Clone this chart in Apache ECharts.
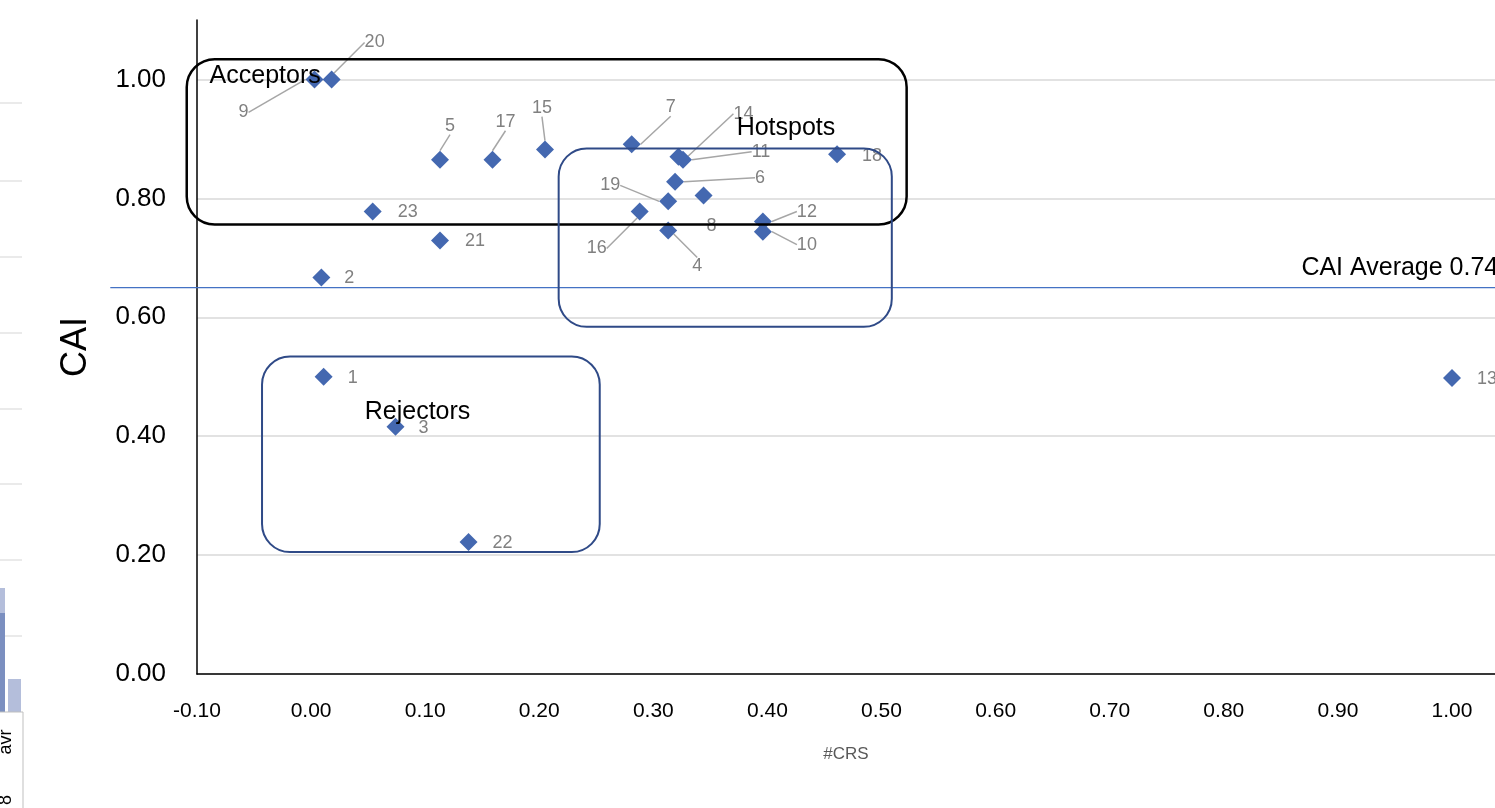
<!DOCTYPE html>
<html>
<head>
<meta charset="utf-8">
<script src="https://cdn.jsdelivr.net/npm/echarts@6/dist/echarts.min.js"></script>
<style>html,body{margin:0;padding:0;background:#fff;}#c{width:1495px;height:808px;}</style>
</head>
<body>
<div id="c"></div>
<script>
// ---- data ----
const ids = [1,2,3,4,5,6,7,8,9,10,11,12,13,14,15,16,17,18,19,20,21,22,23];
const crs = [0.011,0.009,0.074,0.313,0.113,0.319,0.281,0.344,0.003,0.396,0.326,0.396,1.000,0.322,0.205,0.288,0.159,0.461,0.313,0.018,0.113,0.138,0.054];
const cai = [0.500,0.667,0.416,0.746,0.865,0.828,0.891,0.805,1.000,0.744,0.865,0.761,0.498,0.870,0.882,0.778,0.865,0.874,0.795,1.000,0.729,0.222,0.778];
const leaderIds = [4,5,6,7,9,10,11,12,14,15,16,17,19,20];
const xTicks = ['-0.10','0.00','0.10','0.20','0.30','0.40','0.50','0.60','0.70','0.80','0.90','1.00'];
const regionNames = ['Acceptors','Hotspots','Rejectors'];
const regionX0 = [-0.109, 0.217, -0.043];
const regionX1 = [0.522, 0.509, 0.253];
const regionYTop = [1.034, 0.884, 0.534];
const regionYBottom = [0.756, 0.584, 0.205];
const regionLabelX = [-0.089, 0.373, 0.047];
const regionLabelY = [1.005, 0.919, 0.441];
const avgLineValue = 0.65;
const avgLabel = 'CAI Average 0.74';

// label offsets (px from point centre to label centre)
const labelOffsets = {
  1:[29,1],2:[28,1],3:[28,1],4:[29,36],5:[10,-34],6:[85,-4],7:[39,-37],8:[8,31],
  9:[-71,33],10:[44,13],11:[78,-8],12:[44,-10],13:[35,1],14:[65,-43],15:[-3,-42],
  16:[-43,37],17:[13,-38],18:[35,2],19:[-58,-16],20:[43,-37],21:[35,0],22:[34,1],23:[35,1]
};

const FONT = "'Liberation Sans', 'DejaVu Sans', sans-serif";
const chart = echarts.init(document.getElementById('c'), null, {renderer:'canvas'});

const points = ids.map((id,i)=>({
  value:[crs[i], cai[i], id],
  labelLine:{show: leaderIds.indexOf(id) >= 0}
}));
const regions = regionNames.map((n,i)=>[regionX0[i], regionYTop[i], regionX1[i], regionYBottom[i], regionLabelX[i], regionLabelY[i], i]);
const regionColors = ['#000000','#2F4A87','#2F4A87'];

const option = {
  animation:false,
  backgroundColor:'#ffffff',
  grid:{left:197, right:0, top:20, bottom:134, containLabel:false},
  xAxis:{
    type:'value', min:-0.1, max:1.0377, interval:0.1,
    axisLine:{show:true, onZero:false, lineStyle:{color:'#000', width:1.5}},
    axisTick:{show:false},
    splitLine:{show:false},
    axisLabel:{fontFamily:FONT, fontSize:21, color:'#000', margin:27, showMaxLabel:false,
      formatter:v=>{const s=v.toFixed(2); return xTicks.indexOf(s)>=0?s:'';}},
    name:'#CRS', nameLocation:'middle', nameGap:72,
    nameTextStyle:{fontFamily:FONT, fontSize:17, color:'#595959'}
  },
  yAxis:{
    type:'value', min:0, max:1.1, interval:0.2,
    axisLine:{show:true, onZero:false, lineStyle:{color:'#000', width:1.5}},
    axisTick:{show:false},
    splitLine:{show:true, showMaxLine:false, lineStyle:{color:'#d9d9d9', width:1.5}},
    axisLabel:{fontFamily:FONT, fontSize:26, color:'#000', margin:31, showMaxLabel:false,
      formatter:v=>v.toFixed(2)},
    name:'CAI', nameLocation:'middle', nameGap:103, nameRotate:90,
    nameTextStyle:{fontFamily:FONT, fontSize:36, color:'#000'}
  },
  series:[
    {
      type:'custom', coordinateSystem:'cartesian2d', clip:false, silent:true, z:1,
      data:[[-0.176, avgLineValue, 1.0377]],
      encode:{x:0, y:1},
      renderItem:(params, api)=>{
        const a = api.coord([api.value(0), api.value(1)]);
        const b = api.coord([api.value(2), api.value(1)]);
        return {type:'line', shape:{x1:a[0], y1:a[1], x2:b[0], y2:b[1]},
          style:{stroke:'#4472C4', lineWidth:1.2}};
      }
    },
    {
      type:'scatter', z:3,
      symbol:'diamond', symbolSize:18,
      itemStyle:{color:'#4468b0', opacity:1},
      data:points,
      label:{show:true, formatter:p=>String(p.value[2]), fontFamily:FONT, fontSize:18, color:'#808080'},
      labelLine:{lineStyle:{color:'#a6a6a6', width:1.5}},
      labelLayout:(params)=>{
        const id = ids[params.dataIndex];
        const o = labelOffsets[id];
        const r = params.rect;
        const cx = r.x + r.width/2, cy = r.y + r.height/2;
        return {x:cx+o[0], y:cy+o[1], align:'center', verticalAlign:'middle'};
      }
    },
    {
      type:'custom', coordinateSystem:'cartesian2d', clip:false, silent:true, z:5,
      data:regions,
      encode:{x:[0,2], y:[1,3]},
      renderItem:(params, api)=>{
        const tl = api.coord([api.value(0), api.value(1)]);
        const br = api.coord([api.value(2), api.value(3)]);
        const lp = api.coord([api.value(4), api.value(5)]);
        const idx = api.value(6);
        return {type:'group', children:[
          {type:'rect', shape:{x:tl[0], y:tl[1], width:br[0]-tl[0], height:br[1]-tl[1], r:28},
            style:{fill:'none', stroke:regionColors[idx], lineWidth:idx===0?2.5:2}},
          {type:'text', x:lp[0], y:lp[1],
            style:{text:regionNames[idx], fill:'#000', font:'25px '+FONT, textAlign:'left', textVerticalAlign:'middle'}}
        ]};
      }
    },
    {
      type:'custom', coordinateSystem:'cartesian2d', clip:false, silent:true, z:5,
      data:[[0.868, 0.683]],
      encode:{x:0, y:1},
      renderItem:(params, api)=>{
        const p = api.coord([api.value(0), api.value(1)]);
        return {type:'text', x:p[0], y:p[1],
          style:{text:avgLabel, fill:'#000', font:'25px '+FONT, textAlign:'left', textVerticalAlign:'middle'}};
      }
    }
  ],
  graphic:[
    // fragment of neighbouring chart at the left edge
    ...[103,181,257,333,409,484,560,636].map(y=>({type:'line', shape:{x1:0,y1:y,x2:22,y2:y}, style:{stroke:'#e3e3e3', lineWidth:1.5}, silent:true})),
    {type:'rect', shape:{x:0,y:588,width:5,height:124}, style:{fill:'#b4bedb'}, silent:true},
    {type:'rect', shape:{x:0,y:613,width:5,height:99}, style:{fill:'#7b8fc0'}, silent:true},
    {type:'rect', shape:{x:8,y:679,width:13,height:33}, style:{fill:'#b4bedb'}, silent:true},
    {type:'line', shape:{x1:0,y1:712,x2:23,y2:712}, style:{stroke:'#bfbfbf', lineWidth:1}, silent:true},
    {type:'line', shape:{x1:23,y1:712,x2:23,y2:808}, style:{stroke:'#bfbfbf', lineWidth:1}, silent:true},
    {type:'text', x:6, y:742, rotation:Math.PI/2, style:{text:'avr', font:'18px '+FONT, fill:'#000', textAlign:'center', textVerticalAlign:'middle'}, silent:true},
    {type:'text', x:6, y:800, rotation:Math.PI/2, style:{text:'8', font:'18px '+FONT, fill:'#000', textAlign:'center', textVerticalAlign:'middle'}, silent:true}
  ]
};
chart.setOption(option);
</script>
</body>
</html>
